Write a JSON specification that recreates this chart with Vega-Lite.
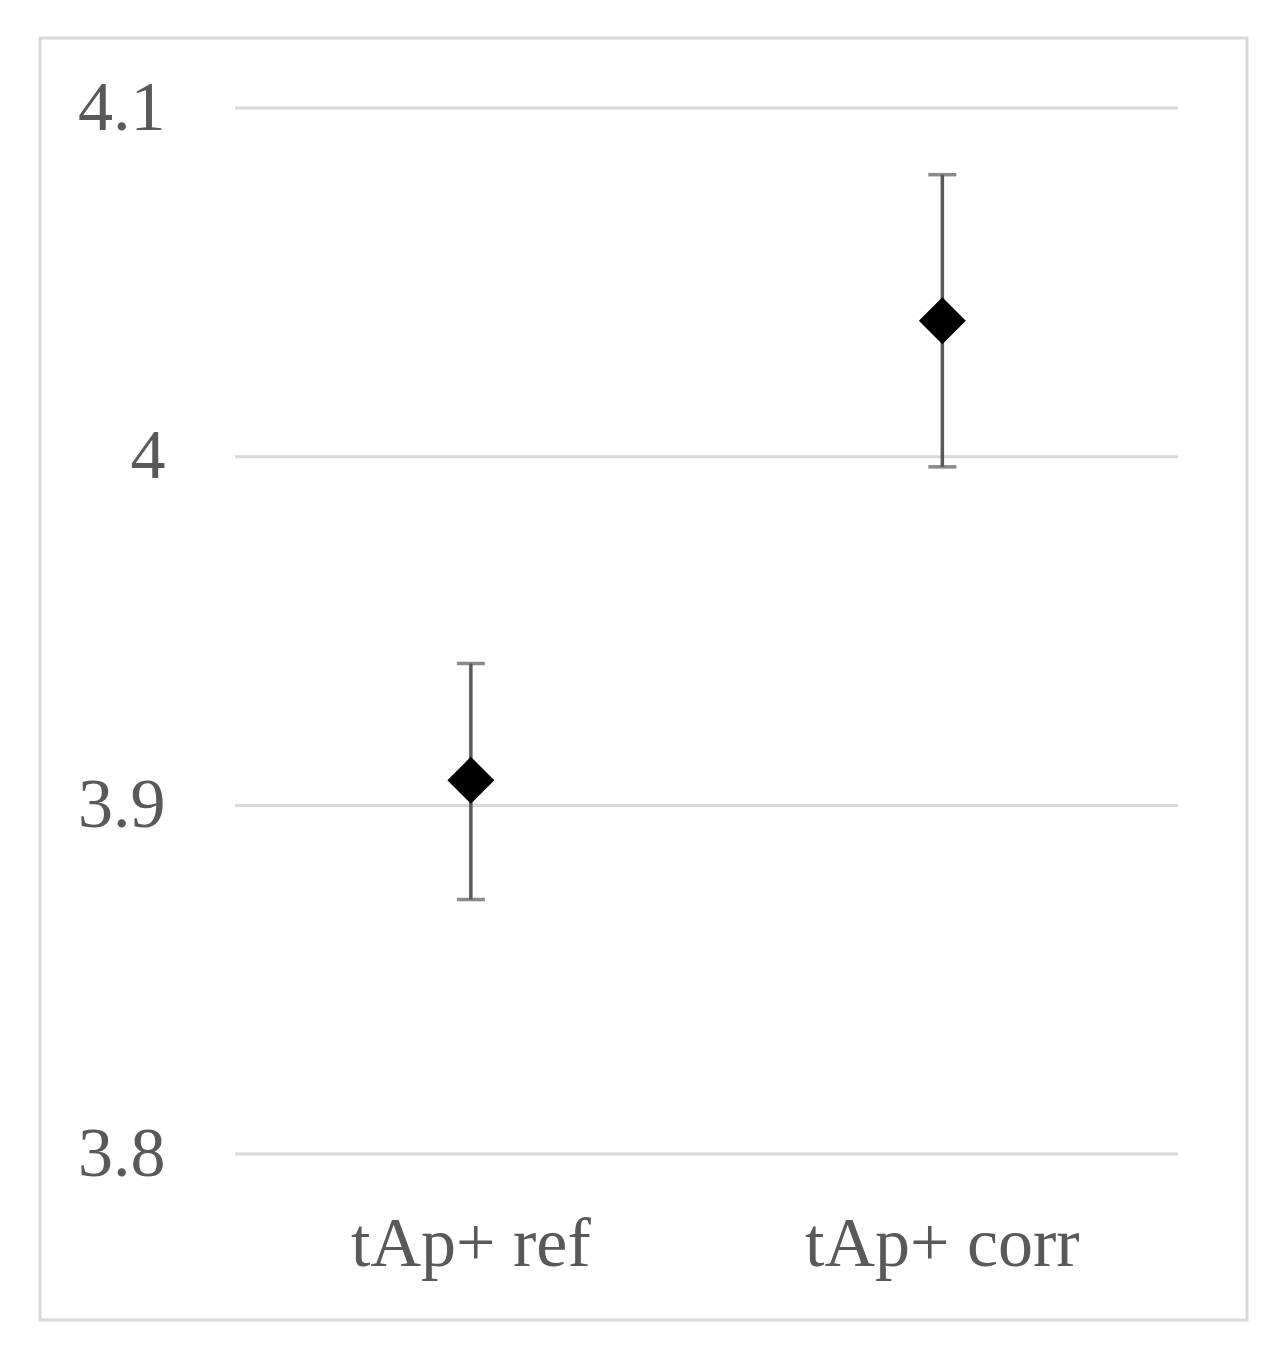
{
  "$schema": "https://vega.github.io/schema/vega-lite/v6.json",
  "width": 1207,
  "height": 1282,
  "padding": {"left": 40, "top": 38, "right": 33, "bottom": 30},
  "autosize": {"type": "pad"},
  "background": "white",
  "config": {
    "view": {"stroke": "#d9d9d9", "strokeWidth": 3},
    "font": "Liberation Serif"
  },
  "datasets": {
    "points": [
      {"group": "tAp+ ref", "mean": 3.9072, "lo": 3.8730, "hi": 3.9407},
      {"group": "tAp+ corr", "mean": 4.0390, "lo": 3.9971, "hi": 4.0809}
    ],
    "grid": [
      {"level": 3.8}, {"level": 3.9}, {"level": 4.0}, {"level": 4.1}
    ]
  },
  "layer": [
    {
      "data": {"name": "grid"},
      "mark": {"type": "rule", "color": "#d9d9d9", "strokeWidth": 3},
      "encoding": {
        "x": {"datum": "tAp+ ref", "type": "nominal", "bandPosition": 0},
        "x2": {"datum": "tAp+ corr", "bandPosition": 1},
        "y": {"field": "level", "type": "quantitative"}
      }
    },
    {
      "data": {"name": "points"},
      "layer": [
        {
          "mark": {"type": "rule", "color": "#595959", "strokeWidth": 3.5},
          "encoding": {
            "y": {"field": "lo", "type": "quantitative"},
            "y2": {"field": "hi"}
          }
        },
        {
          "mark": {"type": "tick", "color": "#595959", "thickness": 3.5, "size": 28, "orient": "horizontal"},
          "encoding": {"y": {"field": "lo", "type": "quantitative"}}
        },
        {
          "mark": {"type": "tick", "color": "#595959", "thickness": 3.5, "size": 28, "orient": "horizontal"},
          "encoding": {"y": {"field": "hi", "type": "quantitative"}}
        },
        {
          "mark": {"type": "point", "shape": "diamond", "filled": true, "color": "black", "opacity": 1, "size": 2200},
          "encoding": {"y": {"field": "mean", "type": "quantitative"}}
        }
      ],
      "encoding": {
        "x": {"field": "group", "type": "nominal"}
      }
    }
  ],
  "encoding": {
    "x": {
      "type": "nominal",
      "scale": {"type": "band", "domain": ["tAp+ ref", "tAp+ corr"], "paddingInner": 0, "paddingOuter": 0.28, "align": 0.739},
      "axis": {
        "title": null, "orient": "bottom", "offset": -166, "domain": false, "ticks": false, "grid": false,
        "labelAngle": 0, "labelFontSize": 70, "labelColor": "#595959", "labelFont": "Liberation Serif",
        "labelBaseline": "alphabetic", "labelPadding": 111, "labelAlign": "center", "labelLimit": 0
      }
    },
    "y": {
      "type": "quantitative",
      "scale": {"domain": [3.7524, 4.1201], "nice": false, "zero": false},
      "axis": {
        "title": null, "orient": "left", "offset": -195, "domain": false, "ticks": false, "grid": false,
        "values": [3.8, 3.9, 4.0, 4.1], "format": "~g",
        "labelFontSize": 70, "labelColor": "#595959", "labelFont": "Liberation Serif",
        "labelPadding": 70, "labelBaseline": "middle"
      }
    }
  }
}
